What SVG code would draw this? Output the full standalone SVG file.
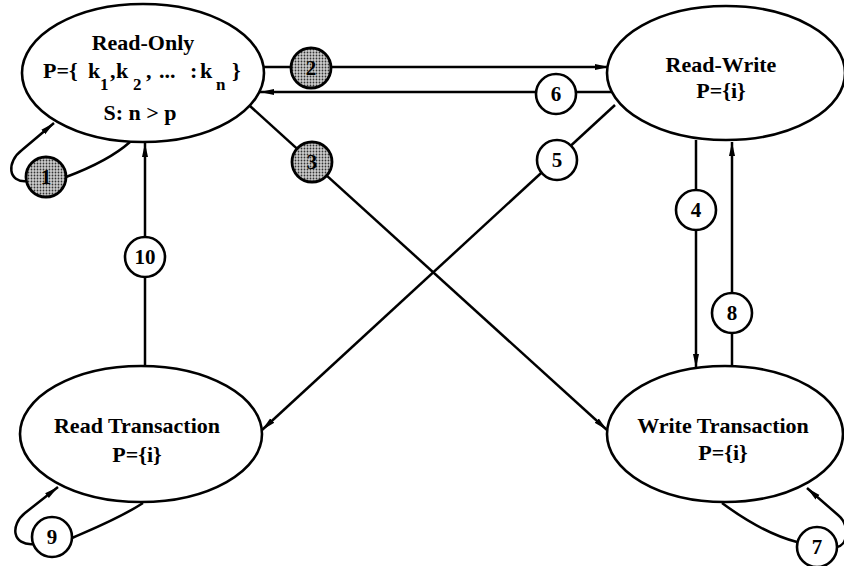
<svg xmlns="http://www.w3.org/2000/svg" width="844" height="566" viewBox="0 0 844 566">
<style>
.node{fill:#fff;stroke:#000;stroke-width:2.6}
.t{font-family:"Liberation Serif","Times New Roman",serif;font-weight:bold;font-size:22px;fill:#000}
.c{font-family:"Liberation Serif","Times New Roman",serif;font-weight:bold;font-size:21px;fill:#000;text-anchor:middle}
.m{text-anchor:middle}
.sub{font-size:17px}
.lbl{fill:#fff;stroke:#000;stroke-width:2.6}
.sh{fill:url(#dots);stroke:#000;stroke-width:2.8}
.e{fill:none;stroke:#000;stroke-width:2.5}
.a{marker-end:url(#arr)}
</style>
<defs>
<pattern id="dots" width="3" height="3" patternUnits="userSpaceOnUse">
<rect width="3" height="3" fill="#ccc"/>
<circle cx="1.5" cy="1.5" r="0.9" fill="#333"/>
</pattern>
<marker id="arr" viewBox="0 0 14 8" refX="14" refY="4" markerWidth="14" markerHeight="8" markerUnits="userSpaceOnUse" orient="auto">
<path d="M0,1 L14,4 L0,7 Z" fill="#000"/>
</marker>
</defs>
<g id="connectors">
<path class="e a" d="M264 67 L609 67"/>
<path class="e a" d="M612 92 L260 92"/>
<path class="e a" d="M250 106 L607 430"/>
<path class="e a" d="M615 105 L262 430"/>
<path class="e a" d="M696 140 L696 368"/>
<path class="e a" d="M732 367 L732 142"/>
<path class="e a" d="M145 367 L145 143"/>
<path class="e" d="M130 142 C112 158 90 168 66 177"/>
<path class="e a" d="M27 181 C8 183 6 162 22 150 L54 123"/>
<path class="e" d="M143 503 C120 518 95 528 72 538"/>
<path class="e a" d="M34 544 C12 546 10 525 25 513 L58 487"/>
<path class="e" d="M722 503 C745 520 770 535 797 542"/>
<path class="e a" d="M837 547 C848 545 850 525 838 515 L807 488"/>
</g>
<g id="read-only">
<ellipse class="node" cx="143" cy="73" rx="121" ry="69"/>
<text class="t m" x="143" y="50">Read-Only</text>
<text class="t" y="78"><tspan x="43">P={</tspan><tspan x="88">k</tspan><tspan x="100" y="90" class="sub">1</tspan><tspan x="110" y="78">,</tspan><tspan x="116">k</tspan><tspan x="133" y="90" class="sub">2</tspan><tspan x="146" y="78">,</tspan><tspan x="159">...</tspan><tspan x="190">:</tspan><tspan x="200">k</tspan><tspan x="216" y="90" class="sub">n</tspan><tspan x="232" y="78">}</tspan></text>
<text class="t m" x="140" y="120">S: n &gt; p</text>
</g>
<g id="read-write">
<ellipse class="node" cx="726" cy="73" rx="119" ry="67"/>
<text class="t m" x="721" y="72">Read-Write</text>
<text class="t m" x="721" y="98">P={i}</text>
</g>
<g id="read-transaction">
<ellipse class="node" cx="141" cy="434" rx="121" ry="68"/>
<text class="t m" x="137" y="433">Read Transaction</text>
<text class="t m" x="137" y="462">P={i}</text>
</g>
<g id="write-transaction">
<ellipse class="node" cx="725" cy="434" rx="118" ry="68"/>
<text class="t m" x="723" y="433">Write Transaction</text>
<text class="t m" x="723" y="460">P={i}</text>
</g>
<g id="label-1"><circle class="sh" cx="46" cy="177" r="20"/><text class="c" x="46" y="184">1</text></g>
<g id="label-2"><circle class="sh" cx="311" cy="68" r="20"/><text class="c" x="311" y="75">2</text></g>
<g id="label-3"><circle class="sh" cx="312" cy="162" r="20"/><text class="c" x="312" y="169">3</text></g>
<g id="label-4"><circle class="lbl" cx="696" cy="210" r="20"/><text class="c" x="696" y="217">4</text></g>
<g id="label-5"><circle class="lbl" cx="557" cy="160" r="20"/><text class="c" x="557" y="167">5</text></g>
<g id="label-6"><circle class="lbl" cx="556" cy="94" r="20"/><text class="c" x="556" y="101">6</text></g>
<g id="label-7"><circle class="lbl" cx="817" cy="547" r="20"/><text class="c" x="817" y="554">7</text></g>
<g id="label-8"><circle class="lbl" cx="732" cy="313" r="20"/><text class="c" x="732" y="320">8</text></g>
<g id="label-9"><circle class="lbl" cx="52" cy="537" r="20"/><text class="c" x="52" y="544">9</text></g>
<g id="label-10"><circle class="lbl" cx="145" cy="257" r="20"/><text class="c" x="145" y="264">10</text></g>
</svg>
